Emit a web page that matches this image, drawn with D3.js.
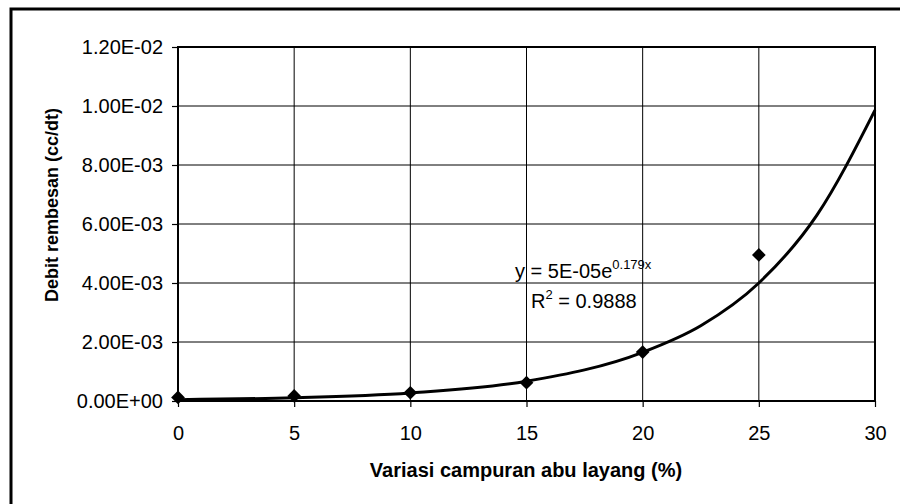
<!DOCTYPE html>
<meta charset="utf-8">
<style>
body { margin: 0; background: #fff; }
svg { font-family: "Liberation Sans", Arial, sans-serif; }
.grid line { stroke: #000; stroke-width: 1; }
.axis path { display: none; }
.axis line { stroke: #000; stroke-width: 1.2; }
.axis text { font-size: 20px; fill: #000; }
</style>
<svg width="900" height="504"></svg>
<script src="https://d3js.org/d3.v7.min.js"></script>
<script>

// measured points
var xVals = [0, 5, 10, 15, 20, 25];
var yVals = [1.2e-4, 1.7e-4, 2.8e-4, 6.2e-4, 1.66e-3, 4.95e-3];

// trendline
var trendX = [0, 5, 10, 15, 20, 22.5, 25, 27.5, 30];
var trendY = [4.6e-5, 1.1e-4, 2.75e-4, 6.7e-4, 1.65e-3, 2.55e-3, 4.0e-3, 6.3e-3, 9.86e-3];

var xTicks = [0, 5, 10, 15, 20, 25, 30];
var yTicks = [0, 0.002, 0.004, 0.006, 0.008, 0.010, 0.012];

var svg = d3.select("svg"),
    margin = {top: 47, right: 25, bottom: 103, left: 178},
    width = +svg.attr("width") - margin.left - margin.right,
    height = +svg.attr("height") - margin.top - margin.bottom;

// outer frame
svg.append("path")
    .attr("d", "M11,506 L11,9 L903,9")
    .attr("fill", "none")
    .attr("stroke", "#000")
    .attr("stroke-width", 3);

var x = d3.scaleLinear().domain([0, 30]).range([0, width]),
    y = d3.scaleLinear().domain([0, 0.012]).range([height, 0]);

var g = svg.append("g")
    .attr("transform", "translate(" + margin.left + "," + margin.top + ")");

g.append("g")
    .attr("class", "grid")
  .selectAll("line.h")
  .data(yTicks)
  .enter().append("line")
    .attr("x1", 0).attr("x2", width)
    .attr("y1", function(d) { return y(d); })
    .attr("y2", function(d) { return y(d); });

g.append("g")
    .attr("class", "grid")
  .selectAll("line.v")
  .data(xTicks)
  .enter().append("line")
    .attr("y1", 0).attr("y2", height)
    .attr("x1", function(d) { return x(d); })
    .attr("x2", function(d) { return x(d); });

g.append("rect")
    .attr("width", width)
    .attr("height", height)
    .attr("fill", "none")
    .attr("stroke", "#000")
    .attr("stroke-width", 2);

g.append("g")
    .attr("class", "axis axis--x")
    .attr("transform", "translate(0," + height + ")")
    .call(d3.axisBottom(x).tickValues(xTicks).tickSize(6).tickPadding(19));

g.append("g")
    .attr("class", "axis axis--y")
    .call(d3.axisLeft(y).tickValues(yTicks).tickSize(6).tickPadding(9)
      .tickFormat(function(d) {
        var s = d.toExponential(2).toUpperCase();
        return s.replace(/E([+-])(\d)$/, "E$10$2");
      }));

var line = d3.line()
    .x(function(d) { return x(d[0]); })
    .y(function(d) { return y(d[1]); })
    .curve(d3.curveMonotoneX);

g.append("path")
    .datum(d3.zip(trendX, trendY))
    .attr("fill", "none")
    .attr("stroke", "#000")
    .attr("stroke-width", 3)
    .attr("d", line);

g.selectAll(".pt")
    .data(d3.zip(xVals, yVals))
    .enter().append("path")
    .attr("class", "pt")
    .attr("transform", function(d) { return "translate(" + x(d[0]) + "," + y(d[1]) + ")"; })
    .attr("d", d3.symbol(d3.symbolDiamond2, 120))
    .attr("fill", "#000");

// equation label
var eq = svg.append("text")
    .attr("x", 515)
    .attr("y", 278)
    .attr("font-size", "20px")
    .attr("fill", "#000");
eq.append("tspan").text("y = 5E-05e");
eq.append("tspan").attr("font-size", "13px").attr("dy", "-9").text("0.179x");

var r2 = svg.append("text")
    .attr("x", 531)
    .attr("y", 308)
    .attr("font-size", "20px")
    .attr("fill", "#000");
r2.append("tspan").text("R");
r2.append("tspan").attr("font-size", "13px").attr("dy", "-9").text("2");
r2.append("tspan").attr("dy", "9").text(" = 0.9888");

// axis titles
svg.append("text")
    .attr("x", 526)
    .attr("y", 477)
    .attr("text-anchor", "middle")
    .attr("font-size", "20px")
    .attr("font-weight", "bold")
    .text("Variasi campuran abu layang (%)");

svg.append("text")
    .attr("transform", "translate(58,205) rotate(-90)")
    .attr("text-anchor", "middle")
    .attr("font-size", "18px")
    .attr("font-weight", "bold")
    .text("Debit rembesan (cc/dt)");

</script>
